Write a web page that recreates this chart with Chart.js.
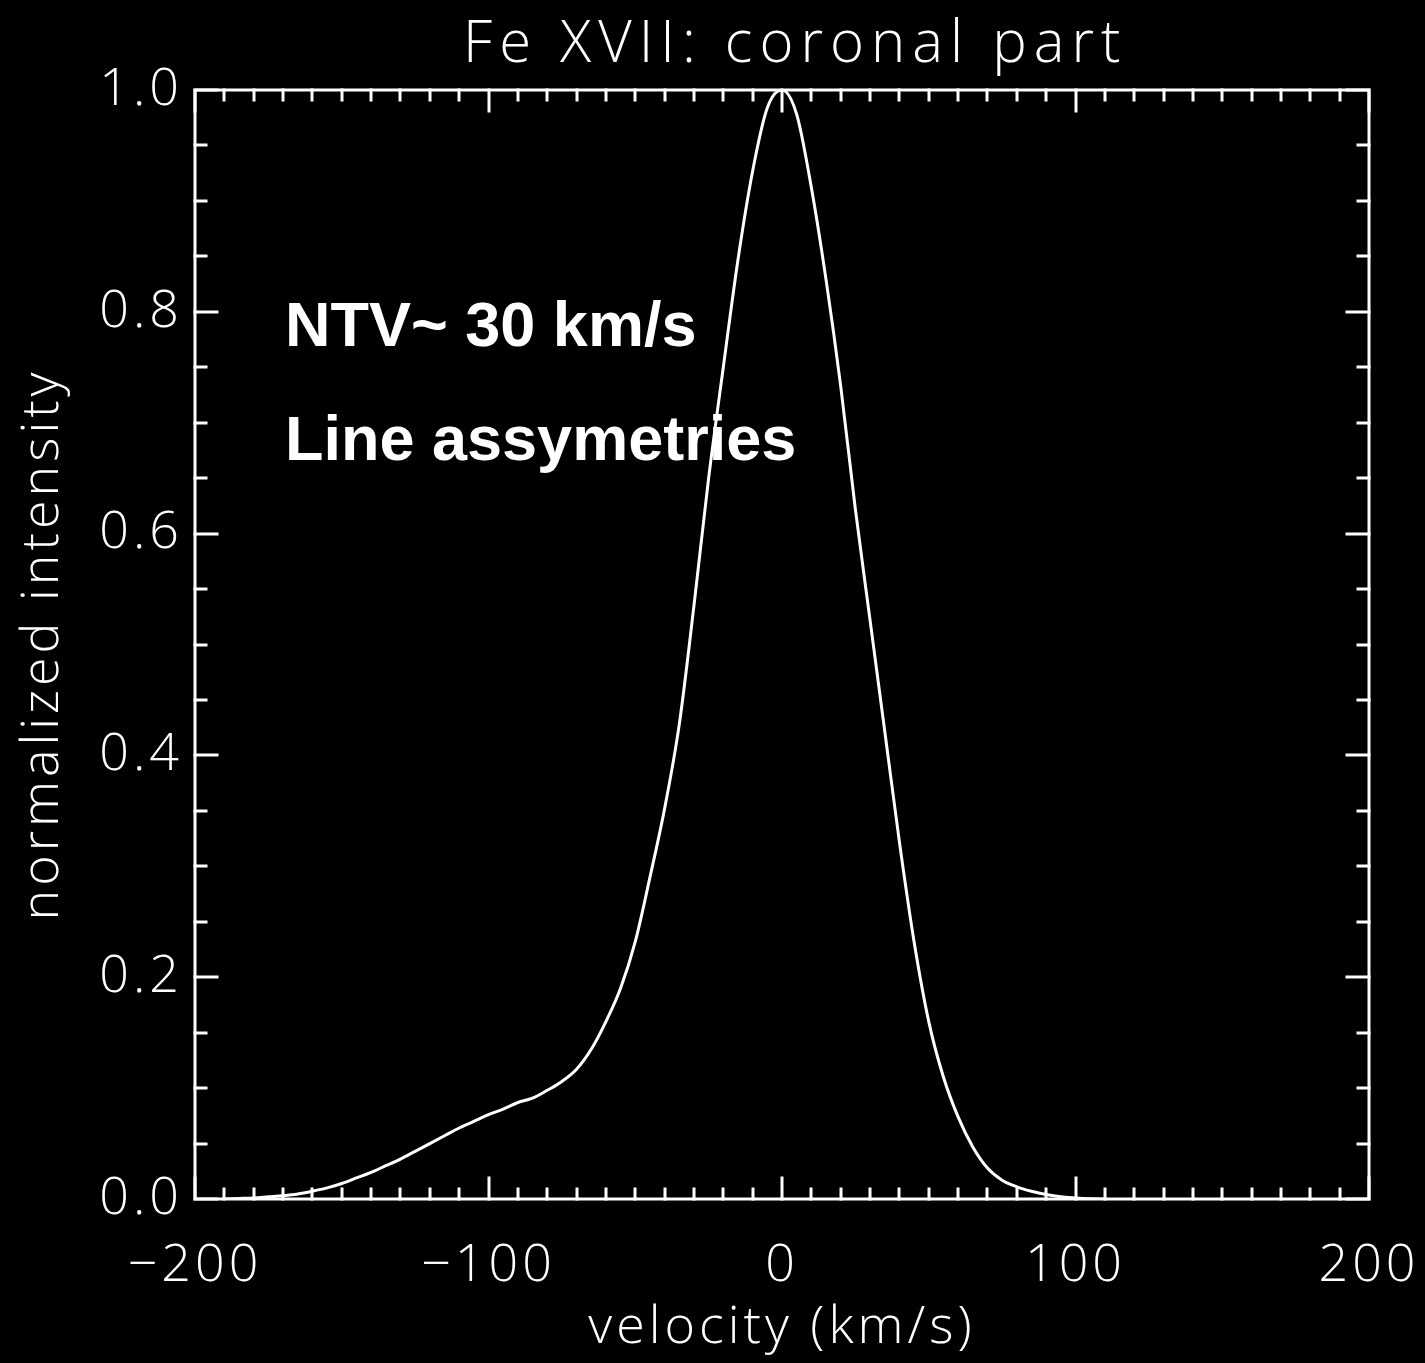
<!DOCTYPE html>
<html>
<head>
<meta charset="utf-8">
<title>Fe XVII: coronal part</title>
<script src="https://cdn.jsdelivr.net/npm/chart.js@4.4.1/dist/chart.umd.min.js"></script>
<style>
  html, body { margin: 0; padding: 0; background: #000; }
  canvas { display: block; }
</style>
</head>
<body>
<canvas id="profileChart" width="1425" height="1363"></canvas>
<script>
// line profile (velocity in km/s, intensity normalized to peak)
const velocity = [
  -190, -185, -180, -175, -170, -165, -160, -155, -150, -145,
  -140, -135, -130, -125, -120, -115, -110, -105, -100, -95,
  -90, -85, -80, -75, -70, -65, -60, -55, -50, -45,
  -40, -35, -30, -25, -20, -15, -10, -5, 0, 5,
  10, 15, 20, 25, 30, 35, 40, 45, 50, 55,
  60, 65, 70, 75, 80, 85, 90, 95, 100, 105, 110
];
const intensity = [
  0.000, 0.0005, 0.001, 0.002, 0.003, 0.0045, 0.007, 0.010, 0.014, 0.019,
  0.024, 0.030, 0.036, 0.043, 0.050, 0.057, 0.064, 0.070, 0.076, 0.081,
  0.087, 0.091, 0.098, 0.106, 0.117, 0.135, 0.160, 0.190, 0.232, 0.290,
  0.352, 0.428, 0.535, 0.650, 0.750, 0.847, 0.927, 0.984, 1.000, 0.978,
  0.912, 0.829, 0.733, 0.622, 0.522, 0.422, 0.322, 0.232, 0.160, 0.110,
  0.074, 0.047, 0.028, 0.017, 0.011, 0.007, 0.004, 0.002, 0.001, 0.0003, 0.000
];

const xTicks = [-200, -100, 0, 100, 200];
const yTicks = [0.0, 0.2, 0.4, 0.6, 0.8, 1.0];
const xMinorStep = 10;
const yMinorStep = 0.05;

const chartTitle = 'Fe XVII: coronal part';
const xLabel = 'velocity (km/s)';
const yLabel = 'normalized intensity';
const notes = ['NTV~ 30 km/s', 'Line assymetries'];

const thinFont = "'Open Sans', 'DejaVu Sans', sans-serif";

// IDL style frame: box, inward ticks on all four sides, title and notes
const idlFrame = {
  id: 'idlFrame',
  beforeDraw(chart) {
    const ctx = chart.ctx;
    ctx.fillStyle = '#000';
    ctx.fillRect(0, 0, chart.width, chart.height);
    // the plotting font is widely spaced, so open up the axis text a bit
    ctx.letterSpacing = '4px';
  },
  afterDraw(chart) {
    const ctx = chart.ctx;
    const a = chart.chartArea;
    const xs = chart.scales.x;
    const ys = chart.scales.y;
    ctx.save();
    ctx.letterSpacing = '0px';
    ctx.strokeStyle = '#fff';
    ctx.lineWidth = 3;
    ctx.lineCap = 'square';
    ctx.strokeRect(a.left, a.top, a.right - a.left, a.bottom - a.top);

    ctx.beginPath();
    for (let v = xs.min; v <= xs.max + 1e-9; v += xMinorStep) {
      const px = Math.round(xs.getPixelForValue(v));
      const len = xTicks.includes(Math.round(v)) ? 21 : 10;
      ctx.moveTo(px, a.bottom); ctx.lineTo(px, a.bottom - len);
      ctx.moveTo(px, a.top); ctx.lineTo(px, a.top + len);
    }
    for (let v = ys.min; v <= ys.max + 1e-9; v += yMinorStep) {
      const py = Math.round(ys.getPixelForValue(v));
      const major = yTicks.some(t => Math.abs(t - v) < 1e-6);
      const len = major ? 22 : 11;
      ctx.moveTo(a.left, py); ctx.lineTo(a.left + len, py);
      ctx.moveTo(a.right, py); ctx.lineTo(a.right - len, py);
    }
    ctx.stroke();

    ctx.fillStyle = '#fff';
    ctx.textAlign = 'left';
    ctx.textBaseline = 'alphabetic';
    ctx.font = '300 58px ' + thinFont;
    ctx.letterSpacing = '7px';
    ctx.fillText(chartTitle, 463, 62);

    ctx.letterSpacing = '0px';
    ctx.font = "bold 63px 'Liberation Sans', Arial, Helvetica, sans-serif";
    ctx.fillText(notes[0], 285, 346);
    ctx.fillText(notes[1], 285, 460);
    ctx.restore();
  }
};

const ctx = document.getElementById('profileChart').getContext('2d');
new Chart(ctx, {
  type: 'line',
  data: {
    datasets: [{
      label: 'Fe XVII',
      data: velocity.map((v, i) => ({ x: v, y: intensity[i] })),
      borderColor: '#fff',
      borderWidth: 3,
      pointRadius: 0,
      fill: false,
      cubicInterpolationMode: 'monotone'
    }]
  },
  options: {
    responsive: false,
    animation: false,
    events: [],
    layout: { padding: { top: 90, right: 56, left: 0, bottom: 0 } },
    plugins: {
      legend: { display: false },
      tooltip: { enabled: false },
      title: { display: false }
    },
    scales: {
      x: {
        type: 'linear',
        min: -200,
        max: 200,
        afterBuildTicks: s => { s.ticks = xTicks.map(v => ({ value: v })); },
        afterFit: s => { s.height = 164; s.paddingLeft = 0; s.paddingRight = 0; },
        grid: { display: false },
        border: { display: false },
        ticks: {
          color: '#fff',
          padding: 28,
          maxRotation: 0,
          autoSkip: false,
          font: { family: thinFont, size: 52, weight: '300' },
          callback: v => String(v).replace('-', '\u2212')
        },
        title: {
          display: true,
          text: xLabel,
          color: '#fff',
          padding: { top: 0, bottom: 4 },
          font: { family: thinFont, size: 52, weight: '300', lineHeight: 1.2 }
        }
      },
      y: {
        type: 'linear',
        min: 0,
        max: 1,
        afterBuildTicks: s => { s.ticks = yTicks.map(v => ({ value: v })); },
        afterFit: s => { s.width = 195; s.paddingTop = 0; s.paddingBottom = 0; },
        grid: { display: false },
        border: { display: false },
        ticks: {
          color: '#fff',
          padding: 4,
          autoSkip: false,
          font: { family: thinFont, size: 52, weight: '300' },
          callback: v => Number(v).toFixed(1)
        },
        title: {
          display: true,
          text: yLabel,
          color: '#fff',
          padding: { top: 12, bottom: 0 },
          font: { family: thinFont, size: 52, weight: '300', lineHeight: 1.2 }
        }
      }
    }
  },
  plugins: [idlFrame]
});
</script>
</body>
</html>
